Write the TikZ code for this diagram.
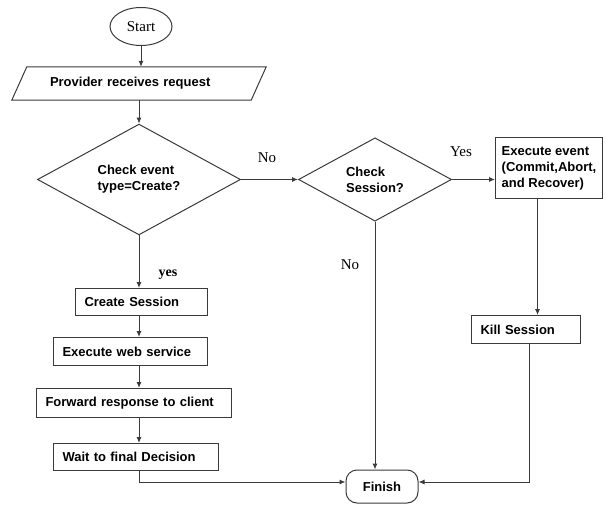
\documentclass[tikz,border=0pt]{standalone}
\usepackage{fontspec}
\setmainfont{Liberation Sans}
\newfontfamily\labelfont{Liberation Serif}
\usetikzlibrary{shapes.geometric,arrows.meta}

\definecolor{edge}{HTML}{3A3A3A}

\begin{document}
\begin{tikzpicture}[x=1pt,y=-1pt,
  every node/.style={text=black},
  txt/.style={font=\fontsize{13}{16}\selectfont\bfseries},
  lbl/.style={font=\labelfont\fontsize{15}{17}\selectfont},
  box/.style={txt,draw=edge,line width=1pt,fill=white,rectangle,
    anchor=north west,inner ysep=0pt,inner xsep=9pt,align=left},
  decision/.style={txt,draw=edge,line width=1pt,diamond,inner sep=0pt,align=left},
  flow/.style={draw=edge,line width=1pt,-{Latex[length=6pt,width=5pt]}},
  link/.style={draw=edge,line width=1pt}
]
\useasboundingbox (0,0) rectangle (605,505);

% terminals
\node[ellipse,draw=edge,line width=1pt,minimum width=62pt,minimum height=38pt,
      inner sep=0pt,font=\labelfont\fontsize{15}{17}\selectfont] (start) at (141,26.5) {Start};
\node[txt,draw=edge,line width=1pt,rectangle,rounded corners=11pt,
      minimum width=72pt,minimum height=33pt,inner sep=0pt] (finish) at (382,486.5) {Finish};

% input step (parallelogram drawn around a plain node)
\node[txt,rectangle,minimum width=254pt,minimum height=33pt,inner ysep=0pt,
      inner xsep=38pt,text width=178pt,align=left] (prov) at (139,83.5) {Provider receives request};
\draw[edge,line width=1pt]
  ([xshift=15pt]prov.north west) -- (prov.north east)
  -- ([xshift=-15pt]prov.south east) -- (prov.south west) -- cycle;

% decisions
\node[decision,minimum width=203pt,minimum height=85pt] (chk1) at (139,179.5) {Check event\\type=Create?};
\node[decision,minimum width=153pt,minimum height=81pt] (chk2) at (375,179.5) {Check\\Session?};

% process boxes
\node[box,minimum width=132pt,minimum height=27pt,text width=114pt] (create) at (75,288) {Create Session};
\node[box,minimum width=154pt,minimum height=28pt,text width=136pt] (web) at (53,337) {Execute web service};
\node[box,minimum width=195pt,minimum height=29pt,text width=177pt] (fwd) at (36,388) {Forward response to client};
\node[box,minimum width=165pt,minimum height=27pt,text width=147pt] (wait) at (53,443) {Wait to final Decision};
\node[box,minimum width=107pt,minimum height=61pt,inner xsep=4pt] (exec) at (495,137) {Execute event\\(Commit,Abort,\\and Recover)};
\node[box,minimum width=109pt,minimum height=28pt,text width=91pt] (kill) at (471,315) {Kill Session};

% connectors
\draw[flow] (start.south) -- (start.south |- prov.north);
\draw[flow] (chk1.north |- prov.south) -- (chk1.north);
\draw[flow] (chk1.east) -- (chk2.west);
\draw[flow] (chk2.east) -- (chk2.east -| exec.west);
\draw[flow] (chk1.south) -- (chk1.south |- create.north);
\draw[flow] (create.south -| chk1.south) -- (web.north -| chk1.south);
\draw[flow] (web.south -| chk1.south) -- (fwd.north -| chk1.south);
\draw[flow] (fwd.south -| chk1.south) -- (wait.north -| chk1.south);
\draw[flow] (wait.south -| chk1.south) |- ([yshift=4.5pt]finish.west);
\draw[flow] (chk2.south) -- (chk2.south |- finish.north);
\coordinate (execout) at ([xshift=-11.5pt]exec.south);
\draw[flow] (execout) -- (execout |- kill.north);
\coordinate (killout) at ([xshift=3.5pt]kill.south);
\draw[flow] (killout) |- ([yshift=4.5pt]finish.east);

% branch labels
\node[lbl] (lno1) at (267,158) {No};
\node[lbl] (lyes1) at (461,152) {Yes};
\node[lbl] (lno2) at (350,265) {No};
\node[lbl,font=\labelfont\bfseries\fontsize{14}{17}\selectfont] (lyes2) at (168,275) {yes};
\end{tikzpicture}
\end{document}
